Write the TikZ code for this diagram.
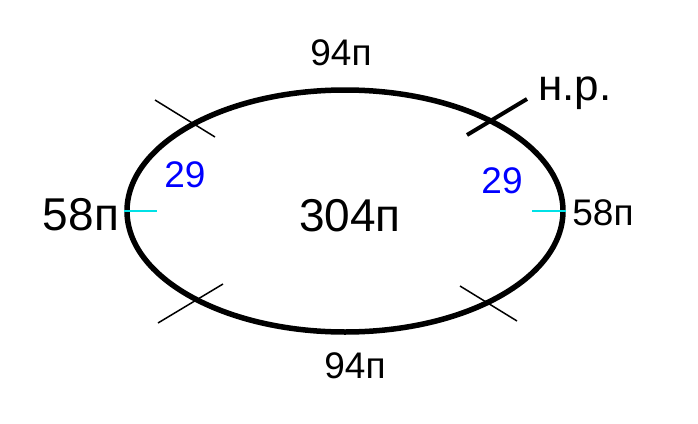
\documentclass[tikz,border=0pt]{standalone}
\usepackage{fontspec}
\setmainfont{Liberation Sans}
\usetikzlibrary{shapes.geometric}
\definecolor{markcyan}{RGB}{0,225,230}

\begin{document}
\begin{tikzpicture}[
                    x=1pt, y=-1pt,
                    lbl/.style={inner sep=0pt, font=\fontsize{37}{40}\selectfont},
                    biglbl/.style={inner sep=0pt, font=\fontsize{46}{50}\selectfont},
                    seglbl/.style={inner sep=0pt, text=blue, font=\fontsize{37}{40}\selectfont},
                    tick/.style={line width=1.5pt},
                    mark line/.style={markcyan, line width=2pt}
                ]
                    \useasboundingbox (0,0) rectangle (698,423);

                    \node[ellipse, draw, line width=5.5pt, minimum width=436pt, minimum height=242pt, inner sep=0pt] (field) at (345,211) {};

                    \node[lbl] (top) at (341,53) {94п};
                    \node[lbl] (bottom) at (355,366) {94п};
                    \node[biglbl] (left) at (81,215) {58п};
                    \node[lbl] (right) at (603,213) {58п};
                    \node[biglbl] (area) at (350,216) {304п};
                    \node[seglbl] (segl) at (185,175) {29};
                    \node[seglbl] (segr) at (502,181) {29};
                    \node[inner sep=0pt, anchor=base west, font=\fontsize{44}{48}\selectfont] (start) at (538,100) {н.р.};

                    % Ticks
                    \coordinate (t1a) at (155,100);
                    \coordinate (t1b) at (215,137);
                    \coordinate (t2a) at (467,135);
                    \coordinate (t2b) at (527,99);
                    \coordinate (t3a) at (158,323);
                    \coordinate (t3b) at (223,284);
                    \coordinate (t4a) at (460,286);
                    \coordinate (t4b) at (517,321);
                    \coordinate (m1) at (157,211);
                    \coordinate (m2) at (532,211);

                    \draw[tick] (t1a) -- (t1b);
                    \draw[tick, line width=4pt] (t2a) -- (t2b);
                    \draw[tick] (t3a) -- (t3b);
                    \draw[tick] (t4a) -- (t4b);
                    \draw[mark line] (field.west) -- (m1);
                    \draw[mark line] (m2) -- (field.east);
                \end{tikzpicture}
\end{document}
